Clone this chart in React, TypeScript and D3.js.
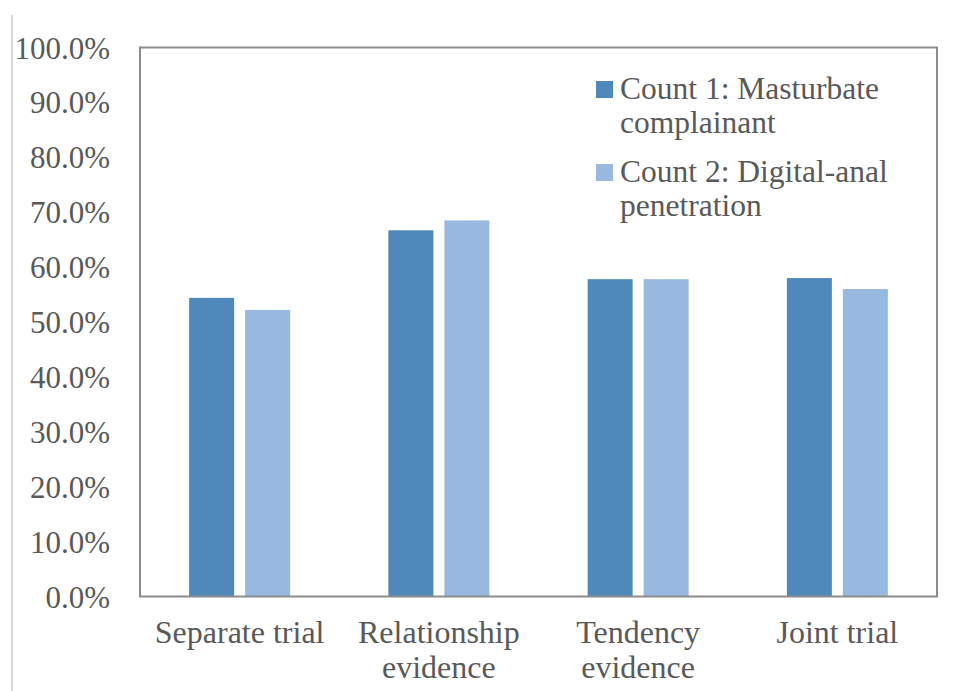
import React from "react";
import * as d3 from "d3";

const categories: string[][] = [
  ["Separate trial"],
  ["Relationship", "evidence"],
  ["Tendency", "evidence"],
  ["Joint trial"],
];
const seriesNames: string[][] = [
  ["Count 1: Masturbate", "complainant"],
  ["Count 2: Digital-anal", "penetration"],
];
const count1: number[] = [54.4, 66.7, 57.8, 58.0];
const count2: number[] = [52.2, 68.5, 57.8, 56.0];
const yTicks: number[] = [0, 10, 20, 30, 40, 50, 60, 70, 80, 90, 100];
const colors = ["#4f88bb", "#98b9df"];

const W = 953;
const H = 691;
const left = 140;
const right = 937;
const top = 47.5;
const bottom = 596.5;
const FONT = "'Liberation Serif', 'Times New Roman', serif";
const TEXT = "#595959";

export default function App() {
  const x = d3
    .scaleBand<number>()
    .domain(d3.range(categories.length))
    .range([left, right]);
  const y = d3.scaleLinear().domain([0, 100]).range([bottom, top]);
  const barW = 45;
  const gap = 11;
  const series = [count1, count2];

  return (
    <svg
      width={W}
      height={H}
      style={{ position: "absolute", left: 0, top: 0, background: "#fff" }}
      fontFamily={FONT}
    >
      <line x1={12} x2={12} y1={15} y2={H} stroke="#d9d9d9" strokeWidth={2} />
      {yTicks.map((t) => (
        <text
          key={t}
          x={110}
          y={y(t) + 11}
          textAnchor="end"
          fontSize={31}
          fill={TEXT}
        >
          {t.toFixed(1) + "%"}
        </text>
      ))}
      {series.map((vals, si) =>
        vals.map((v, i) => {
          const c = (x(i) as number) + x.bandwidth() / 2;
          const bx = si === 0 ? c - gap / 2 - barW : c + gap / 2;
          return (
            <rect
              key={si + "-" + i}
              x={bx}
              y={y(v)}
              width={barW}
              height={y(0) - y(v)}
              fill={colors[si]}
            />
          );
        })
      )}
      <rect
        x={left}
        y={top}
        width={right - left}
        height={bottom - top}
        fill="none"
        stroke="#8c8c8c"
        strokeWidth={2}
      />
      {categories.map((lines, i) => {
        const c = (x(i) as number) + x.bandwidth() / 2;
        return (
          <text key={i} textAnchor="middle" fontSize={32} fill={TEXT}>
            {lines.map((l, j) => (
              <tspan key={j} x={c} y={643 + j * 35}>
                {l}
              </tspan>
            ))}
          </text>
        );
      })}
      {seriesNames.map((lines, si) => (
        <g key={si}>
          <rect
            x={596}
            y={81 + si * 83}
            width={17}
            height={17}
            fill={colors[si]}
          />
          <text fontSize={31.5} fill={TEXT}>
            {lines.map((l, j) => (
              <tspan key={j} x={620} y={99 + si * 83 + j * 34}>
                {l}
              </tspan>
            ))}
          </text>
        </g>
      ))}
    </svg>
  );
}
